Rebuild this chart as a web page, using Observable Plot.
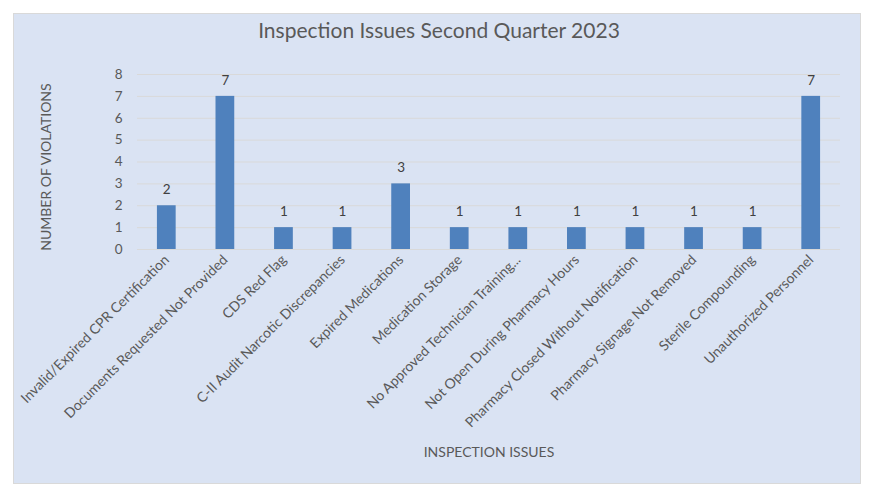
<!DOCTYPE html>
<html>
<head>
<meta charset="utf-8">
<script src="https://cdn.jsdelivr.net/npm/d3@7"></script>
<script src="https://cdn.jsdelivr.net/npm/@observablehq/plot@0.6"></script>
<style>
  html, body { margin: 0; padding: 0; background: #ffffff; width: 875px; height: 496px; overflow: hidden; }
  #frame { position: absolute; left: 13px; top: 13px; width: 846px; height: 469px; background: #DAE3F3; border: 1px solid #D9D9D9; }
  #chart { position: absolute; left: 0; top: 0; }
  .lbl { position: absolute; font-family: Lato, "Open Sans", sans-serif; color: #595959; white-space: nowrap; }
  #title { left: 0; width: 878px; top: 17px; text-align: center; font-size: 21px; }
  #xlabel { left: 0; width: 978px; top: 443px; text-align: center; font-size: 14px; }
  #ylabel { left: 45px; top: 167px; font-size: 14px; transform: translate(-50%, -50%) rotate(-90deg); }
</style>
</head>
<body>
<div id="frame"></div>
<div id="chart"></div>
<div class="lbl" id="title">Inspection Issues Second Quarter 2023</div>
<div class="lbl" id="ylabel">NUMBER OF VIOLATIONS</div>
<div class="lbl" id="xlabel">INSPECTION ISSUES</div>
<script>
const categories = [
  "Invalid/Expired CPR Certification",
  "Documents Requested Not Provided",
  "CDS Red Flag",
  "C-II Audit Narcotic Discrepancies",
  "Expired Medications",
  "Medication Storage",
  "No Approved Technician Training...",
  "Not Open During Pharmacy Hours",
  "Pharmacy Closed Without Notification",
  "Pharmacy Signage Not Removed",
  "Sterile Compounding",
  "Unauthorized Personnel"
];
const violations = [2, 7, 1, 1, 3, 1, 1, 1, 1, 1, 1, 7];
const yTicks = [0, 1, 2, 3, 4, 5, 6, 7, 8];

const data = categories.map((c, i) => ({issue: c, count: violations[i]}));

const chart = Plot.plot({
  width: 875,
  height: 496,
  marginLeft: 137,
  marginRight: 35,
  marginTop: 74,
  marginBottom: 247,
  style: {background: "transparent", fontFamily: "Lato, 'Open Sans', sans-serif"},
  x: {domain: categories, paddingInner: 0.68, paddingOuter: 0.34, round: false},
  y: {domain: [0, 8]},
  marks: [
    Plot.gridY(yTicks, {stroke: "#D9D9D9", strokeOpacity: 1, strokeWidth: 1}),
    Plot.barY(data, {x: "issue", y: "count", fill: "#4F81BD"}),
    Plot.text(data, {x: "issue", y: "count", text: d => String(d.count), dy: -16, fill: "#404040", fontSize: 13.5}),
    Plot.axisY({ticks: yTicks, tickSize: 0, tickPadding: 15, label: null, fontSize: 13.5, color: "#595959"}),
    Plot.axisX({tickSize: 0, tickPadding: 8, tickRotate: -45, label: null, fontSize: 14, color: "#595959"})
  ]
});
document.getElementById("chart").appendChild(chart);
</script>
</body>
</html>
